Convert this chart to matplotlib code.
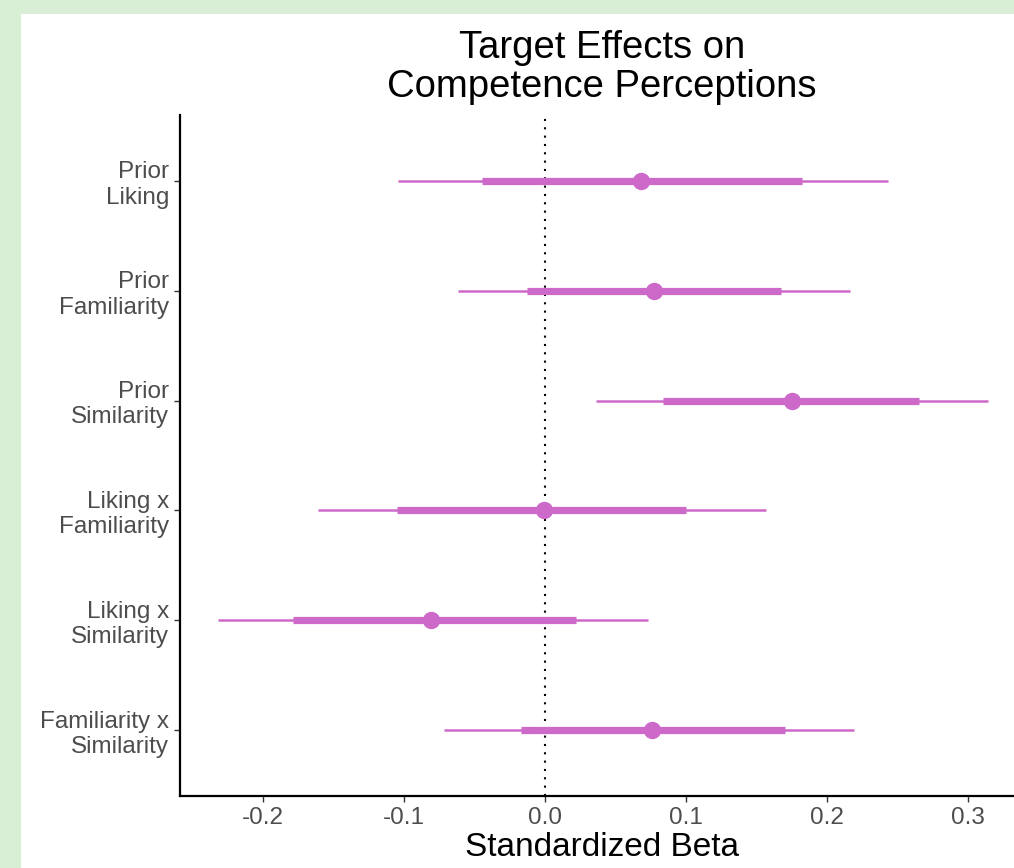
import numpy as np
import matplotlib
matplotlib.use("Agg")
import matplotlib.pyplot as plt
from matplotlib.patches import Rectangle

plt.rcParams['font.family'] = ['Liberation Sans', 'DejaVu Sans']

# estimates
labels = ["Prior\nLiking", "Prior\nFamiliarity", "Prior\nSimilarity",
          "Liking x\nFamiliarity", "Liking x\nSimilarity", "Familiarity x\nSimilarity"]
beta = [0.068, 0.077, 0.175, -0.001, -0.081, 0.076]
inner_lo = [-0.045, -0.013, 0.084, -0.105, -0.179, -0.017]
inner_hi = [0.182, 0.167, 0.265, 0.100, 0.022, 0.170]
outer_lo = [-0.104, -0.062, 0.036, -0.161, -0.232, -0.072]
outer_hi = [0.243, 0.216, 0.314, 0.157, 0.073, 0.219]
xticks = [-0.2, -0.1, 0.0, 0.1, 0.2, 0.3]

col = '#CD69C9'
W, H = 1014, 868

fig = plt.figure(figsize=(W / 100, H / 100), dpi=100, facecolor='#d8efd6')
fig.patches.append(Rectangle((21 / W, 0), 1 - 21 / W, (H - 14) / H,
                             transform=fig.transFigure, facecolor='white',
                             edgecolor='none', zorder=-10))

ax = fig.add_axes([180 / W, 72 / H, (1024 - 180) / W, (796 - 115) / H])
ax.set_facecolor('none')

y = np.arange(len(labels))[::-1] + 1
ax.axvline(0, color='black', linestyle=(0, (1, 3)), linewidth=1.5, zorder=1)
ax.hlines(y, outer_lo, outer_hi, color=col, linewidth=1.8, zorder=2)
ax.hlines(y, inner_lo, inner_hi, color=col, linewidth=5.2, zorder=3)
ax.plot(beta, y, 'o', color=col, markersize=11.5, zorder=4)

ax.set_ylim(0.4, 6.6)
ax.set_xlim(-0.2589, 0.3397)
ax.set_yticks(y)
ax.set_yticklabels(labels, fontsize=17.5, color='#4d4d4d', ha='right',
                   linespacing=1.2)
ax.set_xticks(xticks)
ax.set_xticklabels([f"{t:.1f}" for t in xticks], fontsize=17.5, color='#4d4d4d')
ax.tick_params(axis='both', length=4, width=1, color='#333333', pad=4)

for s in ['top', 'right']:
    ax.spines[s].set_visible(False)
for s in ['left', 'bottom']:
    ax.spines[s].set_linewidth(1.6)
    ax.spines[s].set_color('black')

ax.set_xlabel("Standardized Beta", fontsize=24, labelpad=2)
ax.set_title("Target Effects on\nCompetence Perceptions", fontsize=27.5,
             linespacing=1.1, pad=13)

fig.savefig("out.png", dpi=100, facecolor=fig.get_facecolor())
